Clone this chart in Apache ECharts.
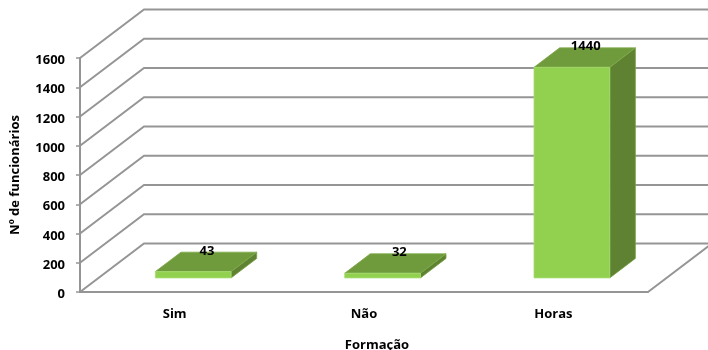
<!DOCTYPE html>
<html>
<head>
<meta charset="utf-8">
<style>html,body{margin:0;padding:0;background:#fff}#c{width:708px;height:350px}</style>
<script src="https://cdn.jsdelivr.net/npm/echarts@6/dist/echarts.min.js"></script>
</head>
<body>
<div id="c"></div>
<script>
// Training figures per category, drawn as pseudo-3D columns on a cartesian grid.
const categories = ['Sim', 'Não', 'Horas'];
const values = [43, 32, 1440];
const gridTicks = [0, 200, 400, 600, 800, 1000, 1200, 1400, 1600];

// Oblique projection of the floor depth, in pixels.
const DEPTH_X = 64;
const DEPTH_Y = -48.6;
const BAR_WIDTH = 0.4;    // share of a category band
const BAR_NEAR = 0.29;    // where the column starts along the depth
const BAR_FAR = 0.69;     // where it ends
const LABEL_SHIFT = [1, 4, 1]; // sideways nudge of each value label

const LINE = '#959595';
const TEXT = { fontFamily: 'Open Sans', fontWeight: 'bold', color: '#000' };
const chart = echarts.init(document.getElementById('c'), null, { renderer: 'canvas' });

const shift = (p, t) => [p[0] + DEPTH_X * t, p[1] + DEPTH_Y * t];

function renderWall(params, api) {
  const v = api.value(1);
  const band = api.size([1, 0])[0];
  const a = api.coord([0, v]);
  const left = [a[0] - band / 2, a[1]];
  const right = [left[0] + band * categories.length, a[1]];
  const pts = v === 0
    ? [left, shift(left, 1), shift(right, 1), right]
    : [left, shift(left, 1), shift(right, 1)];
  return {
    type: 'polyline',
    shape: { points: pts },
    style: { fill: null, stroke: LINE, lineWidth: 2 }
  };
}

function renderColumn(params, api) {
  const x = api.value(0);
  const v = api.value(1);
  const band = api.size([1, 0])[0];
  const c0 = api.coord([x, 0]);
  const c1 = api.coord([x, v]);
  const half = band * BAR_WIDTH / 2;
  const bl = shift([c0[0] - half, c0[1]], BAR_NEAR);
  const br = shift([c0[0] + half, c0[1]], BAR_NEAR);
  const tl = shift([c1[0] - half, c1[1]], BAR_NEAR);
  const tr = shift([c1[0] + half, c1[1]], BAR_NEAR);
  const d = BAR_FAR - BAR_NEAR;
  const poly = (points, fill, stroke) => ({
    type: 'polygon',
    shape: { points },
    style: { fill, stroke, lineWidth: 0.8 }
  });
  const mid = shift([(tl[0] + tr[0]) / 2, tl[1]], d / 2);
  return {
    type: 'group',
    children: [
      poly([br, shift(br, d), shift(tr, d), tr], '#5e8232', '#76a143'),
      poly([tl, tr, shift(tr, d), shift(tl, d)], '#6f9b3c', '#7da948'),
      poly([bl, br, tr, tl], '#92d150', '#a6dc70'),
      {
        type: 'text',
        z2: 10,
        style: {
          text: String(v),
          x: mid[0] + LABEL_SHIFT[x],
          y: mid[1] - 11,
          align: 'center',
          verticalAlign: 'middle',
          fontFamily: 'Open Sans',
          fontWeight: 'bold',
          fontSize: 13,
          fill: '#000'
        }
      }
    ]
  };
}

chart.setOption({
  animation: false,
  backgroundColor: '#fff',
  grid: { left: 80, top: 58, width: 568, height: 234, containLabel: false, outerBoundsMode: 'none' },
  xAxis: {
    type: 'category',
    data: categories,
    name: 'Formação',
    nameLocation: 'middle',
    nameGap: 47,
    nameTextStyle: { ...TEXT, fontSize: 13, padding: [0, 0, 0, 26] },
    axisLine: { lineStyle: { color: LINE, width: 2 } },
    axisTick: { length: 5, alignWithLabel: false, lineStyle: { color: LINE, width: 1.5 } },
    axisLabel: { ...TEXT, fontSize: 13, margin: 16 },
    splitLine: { show: false }
  },
  yAxis: {
    type: 'value',
    min: 0,
    max: 1600,
    interval: 200,
    name: 'Nº de funcionários',
    nameLocation: 'middle',
    nameGap: 58,
    nameTextStyle: { ...TEXT, fontSize: 13 },
    axisLine: { show: true, lineStyle: { color: LINE, width: 2 } },
    axisTick: { show: true, length: 4, lineStyle: { color: LINE, width: 1.5 } },
    axisLabel: { ...TEXT, fontSize: 13, margin: 15, verticalAlign: 'top', padding: [-4, 0, 0, 0], formatter: v => String(v) },
    splitLine: { show: false }
  },
  series: [
    {
      type: 'custom',
      name: 'Paredes',
      clip: false,
      silent: true,
      z: 1,
      renderItem: renderWall,
      encode: { x: 0, y: 1 },
      data: gridTicks.map(t => [0, t])
    },
    {
      type: 'custom',
      name: 'Funcionários',
      clip: false,
      silent: true,
      z: 3,
      renderItem: renderColumn,
      encode: { x: 0, y: 1 },
      data: values.map((v, i) => [i, v])
    }
  ]
});
</script>
</body>
</html>
